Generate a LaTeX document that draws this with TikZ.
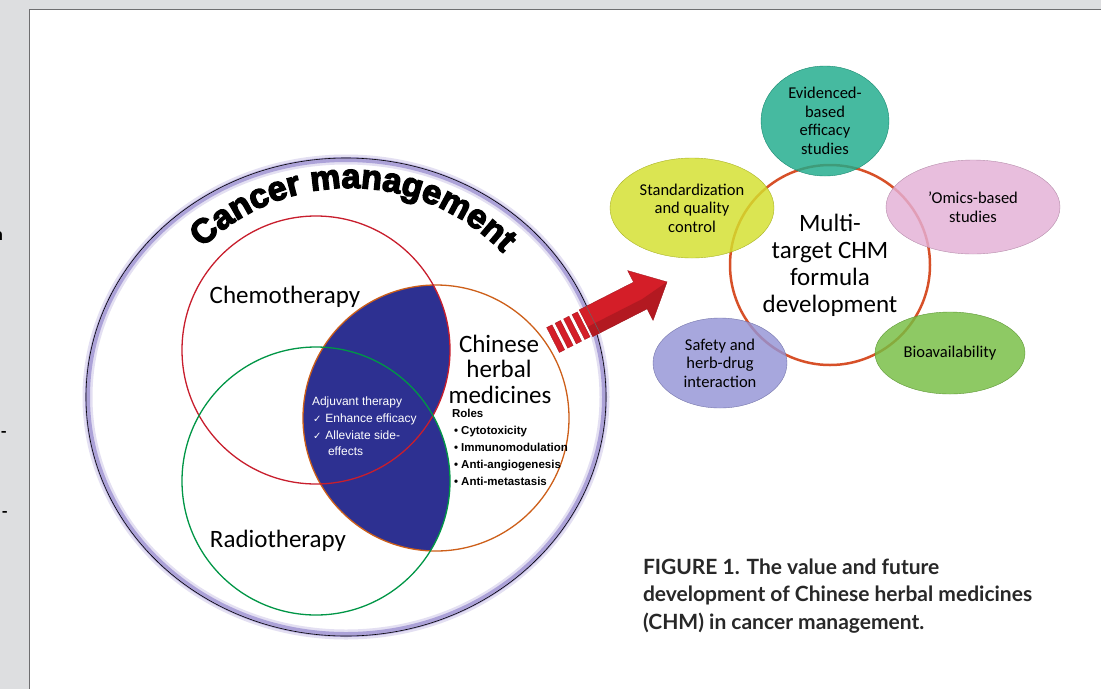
\documentclass[tikz,border=0pt]{standalone}
\usepackage{fontspec}
\setmainfont{Carlito}
\newfontfamily\arialf{Liberation Sans}
\newfontfamily\heavyf[FakeBold=4]{Liberation Sans}
\newfontfamily\capf{Lato}
\newfontfamily\symf{DejaVu Sans}
\usetikzlibrary{decorations.text,shapes.geometric}
\definecolor{bgGray}{RGB}{221,222,224}
\definecolor{panelLine}{RGB}{110,110,112}
\definecolor{glow}{RGB}{128,112,196}
\definecolor{chemoRed}{RGB}{200,30,45}
\definecolor{radioGreen}{RGB}{0,150,70}
\definecolor{chmOrange}{RGB}{205,95,25}
\definecolor{venBlue}{RGB}{45,48,145}
\definecolor{arrowRed}{RGB}{212,30,40}
\definecolor{ringRed}{RGB}{215,80,40}
\definecolor{ovTeal}{RGB}{30,172,140}
\definecolor{ovYellow}{RGB}{212,224,45}
\definecolor{ovPink}{RGB}{228,176,214}
\definecolor{ovLav}{RGB}{148,148,214}
\definecolor{ovGreen}{RGB}{118,190,66}
\definecolor{capGray}{RGB}{40,40,40}
\tikzset{
  vennlabel/.style={font=\fontsize{25}{25}\selectfont, anchor=base},
  rolestext/.style={font=\arialf\bfseries\fontsize{11.5}{11.5}\selectfont, anchor=base west},
  adjtext/.style={font=\arialf\fontsize{12}{12}\selectfont, text=white, anchor=base west},
  oval/.style={ellipse, draw=#1!80!black, line width=0.4pt, fill=#1, fill opacity=0.82, text opacity=1, align=center, font=\fontsize{16.5}{18.5}\selectfont},
  arrowpart/.style={fill=arrowRed, draw=arrowRed!75!black, line width=0.3pt},
  fragment/.style={anchor=base east, font=\capf\bfseries\fontsize{17}{17}\selectfont, text=black}
}
\begin{document}
\begin{tikzpicture}[x=1pt,y=1pt, every node/.style={inner sep=0pt, outer sep=0pt}]
\path[use as bounding box] (0,0) rectangle (1101,-689);
\fill[bgGray] (0,0) rectangle (1101,-689);
% cut-off text fragments in the margin
\begin{scope}
  \clip (0,0) rectangle (28.5,-689);
  \node[fragment] (fragN) at (3,-240) {n};
  \node[fragment] (fragA) at (7,-437) {-};
  \node[fragment] (fragB) at (8,-517) {-};
\end{scope}
\fill[white] (29,-9) rectangle (1101,-689);
\draw[panelLine, line width=1pt] (1101,-9.5) -- (29.5,-9.5) -- (29.5,-689);

% ---------- Cancer management ellipse ----------
\coordinate (cm) at (346,-397);
\draw[glow, line width=10pt, opacity=0.22] (cm) ellipse [x radius=258.5, y radius=237.5];
\draw[glow, line width=5pt, opacity=0.55] (cm) ellipse [x radius=258.5, y radius=237.5];
\draw[black, line width=0.6pt] (cm) ellipse [x radius=260, y radius=239];
\path[decorate, decoration={text along path, text align=center,
  text={|\heavyf\bfseries\fontsize{34}{34}\selectfont|Cancer management}}]
  (350,-400) ++(160:212) arc[start angle=160, end angle=18, radius=212];

% ---------- Venn ----------
\coordinate (chemoC) at (316,-350);
\coordinate (radioC) at (316,-481);
\coordinate (chmC) at (436,-418);
\begin{scope}
  \clip (chmC) circle (133);
  \fill[venBlue] (chemoC) circle (134) (radioC) circle (134);
\end{scope}
\draw[chmOrange, line width=1.3pt] (chmC) circle (133);
\draw[chemoRed, line width=1.3pt] (chemoC) circle (134);
\draw[radioGreen, line width=1.3pt] (radioC) circle (134);

\node[vennlabel] (chemo) at (285,-303) {Chemotherapy};
\node[vennlabel] (radio) at (278,-547) {Radiotherapy};
\node[vennlabel] (chm1) at (499,-352) {Chinese};
\node[vennlabel] (chm2) at (499,-377) {herbal};
\node[vennlabel] (chm3) at (500,-403) {medicines};

\node[rolestext] (roles) at (452,-417) {Roles};
\node[rolestext] (r1) at (454,-434) {• Cytotoxicity};
\node[rolestext] (r2) at (454,-451) {• Immunomodulation};
\node[rolestext] (r3) at (454,-468) {• Anti-angiogenesis};
\node[rolestext] (r4) at (454,-485) {• Anti-metastasis};

\node[adjtext] (adj) at (312,-405) {Adjuvant therapy};
\node[adjtext] (adj1) at (313,-422) {{\symf\fontsize{10}{10}\selectfont ✓}\hspace{4pt}Enhance efficacy};
\node[adjtext] (adj2) at (313,-439) {{\symf\fontsize{10}{10}\selectfont ✓}\hspace{4pt}Alleviate side-};
\node[adjtext] (adj3) at (328,-455) {effects};

% ---------- Arrow ----------
\begin{scope}[shift={(553,-340)}, rotate=27]
  \path[arrowpart] (0,-14) rectangle (6,14);
  \path[arrowpart] (9.5,-14) rectangle (15.5,14);
  \path[arrowpart] (19,-14) rectangle (25,14);
  \path[arrowpart] (28.5,-14) rectangle (34.5,14);
  \path[arrowpart] (37,-15) -- (98,-15) -- (98,-28) -- (128,0) -- (98,28) -- (98,15) -- (37,15) -- cycle;
  \fill[arrowRed!70!black, opacity=0.5] (37,-15) -- (98,-15) -- (98,-28) -- (128,0) -- (98,-4) -- (37,-4) -- cycle;
  \draw[black!60, line width=0.5pt] (45,-15) -- (45,15);
\end{scope}

% ---------- Right cluster ----------
\node[circle, draw=ringRed, line width=2.5pt, minimum size=200pt, align=center,
  font=\fontsize{25}{27}\selectfont] (core) at (830,-265)
  {Multi-\\target CHM\\formula\\development};
\node[oval=ovTeal, minimum width=128pt, minimum height=110pt] (evid) at (825,-121)
  {Evidenced-\\based\\efficacy\\studies};
\node[oval=ovYellow, minimum width=164pt, minimum height=100pt] (stand) at (692,-208)
  {Standardization\\and quality\\control};
\node[oval=ovPink, minimum width=174pt, minimum height=94pt] (omics) at (973,-207)
  {'Omics-based\\studies};
\node[oval=ovLav, minimum width=134pt, minimum height=90pt] (safety) at (720,-363)
  {Safety and\\herb-drug\\interaction};
\node[oval=ovGreen, minimum width=150pt, minimum height=82pt] (bio) at (950,-353)
  {Bioavailability};

% ---------- Caption ----------
\node[anchor=base west, align=left, text=capGray,
  font=\capf\bfseries\fontsize{21}{27.5}\selectfont] (cap) at (643,-629)
  {FIGURE 1. The value and future\\development of Chinese herbal medicines\\(CHM) in cancer management.};
\end{tikzpicture}
\end{document}
